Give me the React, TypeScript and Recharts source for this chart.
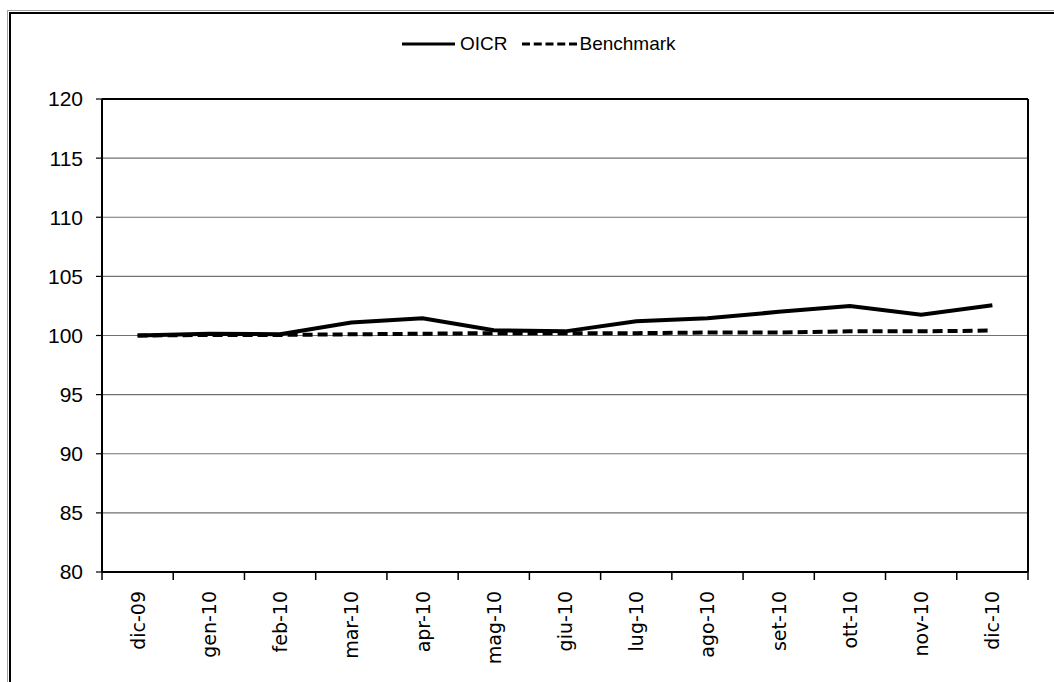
import React from 'react';
import { LineChart, Line, XAxis, YAxis, CartesianGrid, ReferenceLine, Legend } from 'recharts';

const months = ['dic-09', 'gen-10', 'feb-10', 'mar-10', 'apr-10', 'mag-10', 'giu-10', 'lug-10', 'ago-10', 'set-10', 'ott-10', 'nov-10', 'dic-10'];
const oicr = [100.0, 100.15, 100.1, 101.1, 101.45, 100.45, 100.35, 101.2, 101.45, 102.0, 102.5, 101.75, 102.55];
const benchmark = [100.0, 100.05, 100.05, 100.1, 100.15, 100.2, 100.2, 100.2, 100.25, 100.25, 100.35, 100.35, 100.42];
const yTicks = [80, 85, 90, 95, 100, 105, 110, 115, 120];

const seriesNames = ['OICR', 'Benchmark'];

const data = months.map((m, i) => ({ idx: i, month: m, OICR: oicr[i], Benchmark: benchmark[i] }));
const xTicks: number[] = [];
for (let k = 0; k <= months.length * 2; k++) xTicks.push(-0.5 + k * 0.5);

const XTick = (props: any) => {
  const { x, y, payload } = props;
  const v = payload.value;
  if (!Number.isInteger(v)) {
    return <line x1={x} x2={x} y1={y - 8} y2={y} stroke="#000" strokeWidth={1.5} />;
  }
  const ty = y + 11;
  return (
    <text x={x} y={ty} transform={`rotate(-90 ${x} ${ty})`} textAnchor="end" dominantBaseline="central"
      fontFamily="DejaVu Sans" fontSize={19} fill="#000">
      {months[v]}
    </text>
  );
};

const LegendContent = () => (
  <div style={{ display: 'flex', alignItems: 'center', height: 22, fontFamily: 'Liberation Sans, Arial', fontSize: 19, lineHeight: '22px', color: '#000', whiteSpace: 'nowrap' }}>
    <svg width={53} height={22} style={{ display: 'block' }}>
      <line x1={0} x2={53} y1={11} y2={11} stroke="#000" strokeWidth={3} />
    </svg>
    <span style={{ marginLeft: 5 }}>{seriesNames[0]}</span>
    <svg width={55} height={22} style={{ display: 'block', marginLeft: 14 }}>
      <line x1={0} x2={55} y1={11} y2={11} stroke="#000" strokeWidth={3} strokeDasharray="8 3.75" />
    </svg>
    <span style={{ marginLeft: 3 }}>{seriesNames[1]}</span>
  </div>
);

export default function App() {
  return (
    <div style={{ position: 'absolute', left: 0, top: 0, width: 1054, height: 682, overflow: 'hidden', background: '#fff' }}>
      <div style={{ position: 'absolute', left: 7, top: 10, width: 1200, height: 800, borderLeft: '1px solid #a0a0a0', borderTop: '1px solid #a0a0a0' }}>
        <div style={{ position: 'absolute', left: 1, top: 1, width: 1200, height: 800, borderLeft: '2px solid #000', borderTop: '2px solid #000' }} />
      </div>
      <div style={{ position: 'absolute', left: 0, top: 0 }}>
        <LineChart width={1054} height={682} data={data} margin={{ top: 99, right: 26, left: 0, bottom: 0 }}>
          <CartesianGrid horizontal={true} vertical={false} stroke="#707070" strokeWidth={1.2} />
          <XAxis type="number" dataKey="idx" domain={[-0.5, months.length - 0.5]} ticks={xTicks} interval={0}
            tickLine={false} tickSize={8} tickMargin={0} height={110}
            axisLine={{ stroke: '#000', strokeWidth: 2 }} tick={<XTick />} />
          <YAxis type="number" domain={[80, 120]} ticks={yTicks} interval={0} width={102}
            tickSize={6} tickMargin={13}
            axisLine={{ stroke: '#000', strokeWidth: 2 }} tickLine={{ stroke: '#000', strokeWidth: 1.2 }}
            tick={{ fontSize: 21, fontFamily: 'Liberation Sans, Arial', fill: '#000' }} />
          <ReferenceLine y={120} stroke="#000" strokeWidth={2} />
          <ReferenceLine x={months.length - 0.5} stroke="#000" strokeWidth={2} />
          <Legend layout="horizontal" verticalAlign="middle" align="center" content={<LegendContent />}
            wrapperStyle={{ top: 33, left: 402, width: 'auto' }} />
          <Line type="linear" dataKey="Benchmark" name={seriesNames[1]} stroke="#000" strokeWidth={4} strokeDasharray="10 5"
            dot={false} activeDot={false} isAnimationActive={false} />
          <Line type="linear" dataKey="OICR" name={seriesNames[0]} stroke="#000" strokeWidth={4}
            dot={false} activeDot={false} isAnimationActive={false} />
        </LineChart>
      </div>
    </div>
  );
}
